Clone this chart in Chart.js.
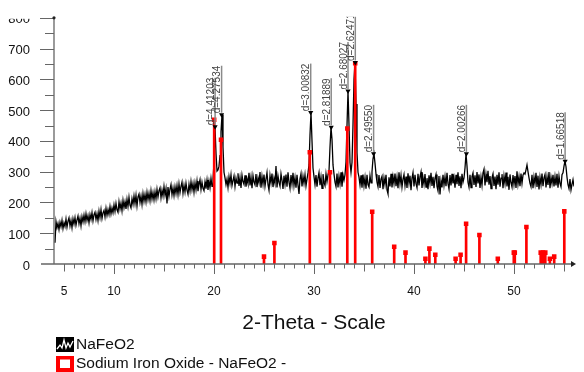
<!DOCTYPE html>
<html>
<head>
<meta charset="utf-8">
<title>NaFeO2 - 2-Theta scan</title>
<script src="https://cdn.jsdelivr.net/npm/chart.js@4.4.1/dist/chart.umd.min.js"></script>
<style>
  body { margin: 0; background: #fff; }
  #wrap { width: 584px; height: 372px; }
</style>
</head>
<body>
<div id="wrap"><canvas id="xrd" width="584" height="372"></canvas></div>
<script>
// measured scan: 2-theta 4.1 .. 56.0, step 0.1 (one row = 1 degree)
const scanStart = 4.1;
const scanStep = 0.1;
const scanCounts = [
  69, 138, 118, 132, 112, 136, 121, 142, 115, 134,
  122, 146, 120, 139, 150, 124, 142, 118, 147, 130,
  151, 126, 143, 156, 131, 149, 124, 154, 137, 159,
  138, 163, 141, 157, 134, 161, 145, 167, 140, 160,
  168, 145, 163, 141, 172, 151, 177, 148, 166, 174,
  153, 181, 158, 177, 161, 187, 163, 182, 167, 192,
  171, 197, 176, 168, 202, 179, 198, 173, 207, 183,
  202, 179, 210, 187, 217, 191, 182, 212, 194, 221,
  196, 223, 189, 218, 227, 200, 221, 194, 229, 204,
  226, 202, 233, 209, 230, 206, 238, 211, 232, 208,
  235, 212, 243, 218, 238, 247, 215, 240, 221, 252,
  224, 245, 197, 250, 220, 243, 258, 225, 247, 222,
  251, 229, 255, 226, 260, 232, 252, 266, 230, 256,
  234, 263, 240, 227, 259, 237, 268, 241, 262, 233,
  264, 241, 270, 237, 259, 274, 242, 266, 246, 238,
  267, 245, 273, 241, 269, 248, 278, 252, 276, 330,
  446, 360, 302, 306, 318, 352, 430, 485, 380, 298,
  280, 258, 276, 249, 284, 262, 290, 255, 271, 286,
  252, 279, 263, 295, 254, 281, 247, 289, 268, 259,
  288, 251, 277, 262, 296, 255, 283, 246, 287, 266,
  257, 292, 250, 280, 264, 299, 248, 285, 259, 291,
  253, 276, 297, 258, 240, 288, 264, 294, 250, 279,
  262, 318, 249, 286, 265, 253, 293, 272, 244, 287,
  259, 291, 251, 298, 266, 246, 289, 260, 296, 255,
  281, 248, 290, 256, 228, 277, 294, 252, 285, 262,
  290, 254, 276, 296, 322, 420, 492, 400, 312, 284,
  258, 289, 251, 280, 297, 256, 283, 246, 292, 266,
  255, 293, 268, 290, 302, 380, 444, 405, 322, 292,
  266, 252, 294, 249, 285, 260, 298, 251, 289, 272,
  290, 332, 450, 562, 452, 330, 298, 330, 452, 600,
  655, 520, 362, 298, 282, 257, 288, 248, 291, 254,
  281, 245, 290, 258, 250, 287, 264, 300, 342, 358,
  328, 292, 266, 251, 289, 247, 276, 285, 243, 280,
  258, 290, 241, 228, 282, 252, 293, 249, 284, 261,
  294, 253, 282, 246, 298, 261, 288, 250, 276, 291,
  255, 284, 247, 295, 262, 287, 240, 279, 297, 252,
  290, 261, 248, 293, 255, 284, 299, 247, 281, 259,
  292, 250, 279, 243, 288, 262, 296, 254, 283, 246,
  278, 291, 252, 238, 286, 226, 271, 249, 290, 256,
  284, 253, 296, 261, 244, 289, 255, 293, 262, 281,
  248, 290, 259, 298, 254, 285, 246, 293, 266, 280,
  312, 358, 318, 266, 250, 290, 248, 284, 296, 257,
  288, 250, 299, 262, 291, 247, 283, 256, 296, 308,
  255, 292, 266, 303, 258, 286, 245, 281, 293, 254,
  284, 243, 290, 258, 298, 251, 279, 292, 246, 286,
  261, 297, 252, 283, 241, 291, 264, 250, 289, 258,
  286, 247, 301, 259, 284, 253, 294, 262, 289, 296,
  292, 306, 322, 300, 280, 262, 251, 290, 246, 283,
  260, 296, 250, 287, 242, 282, 258, 294, 253, 280,
  291, 249, 284, 257, 299, 246, 282, 261, 290, 252,
  284, 255, 293, 248, 286, 262, 251, 290, 296, 318,
  334, 316, 282, 258, 245, 276, 241, 259, 274, 252
];

// reference pattern: Sodium Iron Oxide - NaFeO2
const refAngles = [20.02, 20.7, 25.0, 26.04, 29.58, 31.6, 33.33, 34.12, 35.82, 38.02,
  39.15, 41.14, 41.54, 42.13, 44.16, 44.66, 45.21, 46.54, 48.38, 49.98,
  50.08, 51.24, 52.67, 52.9, 53.13, 53.59, 54.02, 55.03];
const refCounts = [469, 404, 24, 68, 363, 298, 440, 652, 170, 56,
  37, 17, 50, 30, 17, 30, 131, 94, 17, 37,
  37, 120, 37, 37, 37, 17, 24, 171];

// labelled peaks of the scan
const peakAngles = [20.11, 20.76, 29.67, 31.72, 33.40, 34.13, 35.96, 45.24, 55.11];
const peakCounts = [446, 485, 492, 444, 562, 655, 358, 358, 334];
const peakLabels = ['d=4.41203', 'd=4.27534', 'd=3.00832', 'd=2.81889', 'd=2.68027',
  'd=2.62471', 'd=2.49550', 'd=2.00266', 'd=1.66518'];

const xLabelled = [5, 10, 20, 30, 40, 50];
const xMin = 4, xMax = 56;
const yMax = 800;

const seriesNames = ['NaFeO2', 'Sodium Iron Oxide - NaFeO2 -'];

const FONT = '"Liberation Sans", Arial, sans-serif';
const AXIS = '#666';

const scanPoints = scanCounts.map((c, i) => ({ x: Math.round((scanStart + i * scanStep) * 10) / 10, y: c }));
const refPoints = refAngles.map((a, i) => ({ x: a, y: refCounts[i] }));
const peakPoints = peakAngles.map((a, i) => ({ x: a, y: peakCounts[i] }));

// axes, tick marks, peak labels and legend
const decor = {
  id: 'decor',
  afterDraw(chart) {
    const ctx = chart.ctx;
    const xs = chart.scales.x, ys = chart.scales.y;
    const left = chart.chartArea.left, bottom = ys.getPixelForValue(0);
    const top = ys.getPixelForValue(yMax), right = xs.getPixelForValue(xMax);
    ctx.save();

    // peak labels
    ctx.font = '10px ' + FONT;
    ctx.fillStyle = '#444';
    peakAngles.forEach((a, i) => {
      const px = xs.getPixelForValue(a);
      const py = ys.getPixelForValue(peakCounts[i]);
      ctx.strokeStyle = '#8a8a8a';
      ctx.lineWidth = 1.5;
      ctx.beginPath();
      ctx.moveTo(px, py - 2);
      ctx.lineTo(px, py - 49);
      ctx.stroke();
      ctx.save();
      ctx.translate(px - 1.5, py - 49);
      ctx.rotate(-Math.PI / 2);
      ctx.textAlign = 'right';
      ctx.textBaseline = 'alphabetic';
      ctx.fillText(peakLabels[i], 0, 0);
      ctx.restore();
    });

    // anything above the plot frame is cut off (also the top of the 800 label)
    ctx.fillStyle = '#fff';
    ctx.fillRect(0, 0, chart.width, top - 1);
    ctx.fillRect(0, 0, left - 8, top + 1);

    // axis lines
    ctx.strokeStyle = AXIS;
    ctx.lineWidth = 1.3;
    ctx.beginPath();
    ctx.moveTo(41, bottom);
    ctx.lineTo(right, bottom);
    ctx.moveTo(left, bottom);
    ctx.lineTo(left, top);
    ctx.stroke();

    // x ticks: every degree, longer at 5s and 10s
    ctx.lineWidth = 1;
    ctx.beginPath();
    for (let v = xMin + 1; v < xMax; v++) {
      const px = Math.round(xs.getPixelForValue(v)) + 0.5;
      const len = v % 10 === 0 ? 10 : (v % 5 === 0 ? 7.5 : 4.5);
      ctx.moveTo(px, bottom);
      ctx.lineTo(px, bottom + len);
    }
    // y ticks: every 50, longer at 100s
    for (let v = 50; v <= yMax; v += 50) {
      const py = Math.round(ys.getPixelForValue(v)) + 0.5;
      const len = v % 100 === 0 ? 14 : 9;
      ctx.moveTo(left - len, py);
      ctx.lineTo(left, py);
    }
    ctx.stroke();

    // axis ends
    ctx.fillStyle = '#222';
    ctx.beginPath();
    ctx.arc(left, top, 1.6, 0, Math.PI * 2);
    ctx.fill();
    ctx.beginPath();
    ctx.moveTo(right + 2, bottom);
    ctx.lineTo(right - 3, bottom - 3);
    ctx.lineTo(right - 3, bottom + 3);
    ctx.closePath();
    ctx.fill();

    // legend
    const lx = 56;
    ctx.fillStyle = '#000';
    ctx.fillRect(lx, 337, 18, 15);
    ctx.strokeStyle = '#fff';
    ctx.lineWidth = 1.3;
    ctx.beginPath();
    ctx.moveTo(lx + 1, 349);
    ctx.lineTo(lx + 4, 345);
    ctx.lineTo(lx + 6, 348);
    ctx.lineTo(lx + 8, 340);
    ctx.lineTo(lx + 10, 348);
    ctx.lineTo(lx + 12, 343);
    ctx.lineTo(lx + 14, 347);
    ctx.lineTo(lx + 17, 341);
    ctx.stroke();
    ctx.fillStyle = '#ff0000';
    ctx.fillRect(lx, 356, 18, 16);
    ctx.fillStyle = '#fff';
    ctx.fillRect(lx + 4, 359.5, 10, 8.5);

    ctx.fillStyle = '#111';
    ctx.font = '15.5px ' + FONT;
    ctx.textAlign = 'left';
    ctx.textBaseline = 'middle';
    ctx.fillText(seriesNames[0], 76, 345);
    ctx.fillText(seriesNames[1], 76, 364);
    ctx.restore();
  }
};

new Chart(document.getElementById('xrd'), {
  data: {
    datasets: [
      {
        type: 'line',
        label: seriesNames[0],
        data: scanPoints,
        borderColor: '#000',
        borderWidth: 1.3,
        pointRadius: 0,
        tension: 0,
        order: 3
      },
      {
        type: 'bar',
        label: seriesNames[1],
        data: refPoints,
        backgroundColor: '#ff0000',
        barThickness: 2,
        order: 2
      },
      {
        type: 'line',
        label: 'ref tops',
        data: refPoints,
        showLine: false,
        pointStyle: 'rect',
        pointRadius: 3.2,
        pointBackgroundColor: '#ff0000',
        pointBorderWidth: 0,
        order: 1
      },
      {
        type: 'line',
        label: 'peaks',
        data: peakPoints,
        showLine: false,
        pointStyle: 'triangle',
        rotation: 180,
        pointRadius: 3,
        pointBackgroundColor: '#000',
        pointBorderWidth: 0,
        order: 0
      }
    ]
  },
  options: {
    responsive: false,
    devicePixelRatio: 1,
    animation: false,
    events: [],
    layout: { padding: { left: 0, right: 2, top: 16.5, bottom: 36 } },
    plugins: { legend: { display: false }, tooltip: { enabled: false } },
    scales: {
      x: {
        type: 'linear',
        min: xMin,
        max: xMax,
        offset: false,
        afterBuildTicks(scale) {
          const t = [];
          for (let v = xMin; v <= xMax; v++) t.push({ value: v });
          scale.ticks = t;
        },
        afterFit(scale) { scale.height = 72; },
        grid: { display: false, drawTicks: true, tickLength: 10 },
        border: { display: false },
        ticks: {
          autoSkip: false,
          maxRotation: 0,
          minRotation: 0,
          padding: 10,
          color: '#111',
          font: { family: FONT, size: 12 },
          callback: (v) => xLabelled.includes(v) ? String(v) : ''
        },
        title: {
          display: true,
          text: '2-Theta - Scale',
          color: '#111',
          font: { family: FONT, size: 21, lineHeight: 1.24 },
          padding: { top: 0, bottom: 0 }
        }
      },
      y: {
        min: 0,
        max: yMax,
        afterFit(scale) { scale.width = 54; },
        grid: { display: false, drawTicks: true, tickLength: 14 },
        border: { display: false },
        ticks: {
          stepSize: 100,
          padding: 10,
          labelOffset: 2,
          color: '#111',
          font: { family: FONT, size: 13 }
        }
      }
    }
  },
  plugins: [decor]
});
</script>
</body>
</html>
